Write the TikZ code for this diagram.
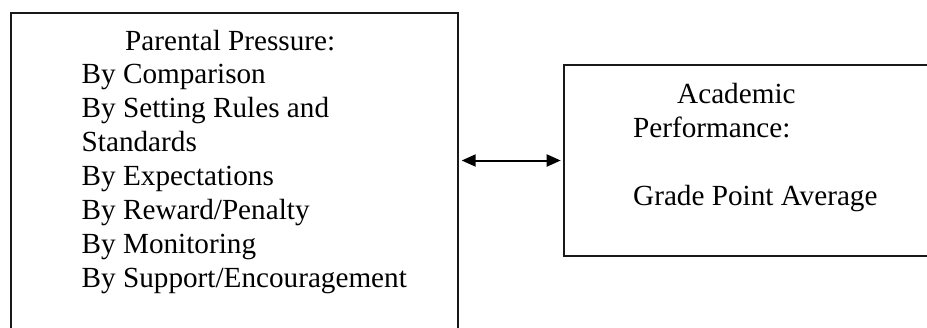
\documentclass[tikz,border=0pt]{standalone}
\usepackage{fontspec}
\setmainfont{Liberation Serif}
\usetikzlibrary{arrows.meta}
\begin{document}
\begin{tikzpicture}[x=1pt,y=-1pt,
  frame/.style={draw=black!90, line width=2pt, inner sep=0pt, anchor=north west},
  txt/.style={anchor=base west, inner sep=0pt, font=\fontsize{29.2}{33.9}\selectfont},
  link/.style={{Triangle[length=14pt,width=12pt]}-{Triangle[length=14pt,width=12pt]}, line width=2pt}]
  \useasboundingbox (0,0) rectangle (927,327);
  \clip (0,0) rectangle (927,327);
  % the two boxes (both run past the page edge)
  \node[frame, minimum width=446.7pt, minimum height=340pt] (lbox) at (10,11.7) {};
  \node[frame, minimum width=380pt, minimum height=191pt] (rbox) at (562.7,64) {};
  % left box text
  \node[txt] (t0) at (125,50) {Parental Pressure:};
  \node[txt] (t1) at (81.5,83.9) {By Comparison};
  \node[txt] (t2) at (81.5,117.7) {By Setting Rules and};
  \node[txt] (t3) at (81.5,151.6) {Standards};
  \node[txt] (t4) at (81.5,185.4) {By Expectations};
  \node[txt] (t5) at (81.5,219.3) {By Reward/Penalty};
  \node[txt] (t6) at (81.5,253.1) {By Monitoring};
  \node[txt] (t7) at (81.5,287) {By Support/Encouragement};
  % right box text
  \node[txt] (r0) at (677,103) {Academic};
  \node[txt] (r1) at (633,137) {Performance:};
  \node[txt] (r2) at (633,205) {Grade Point Average};
  % two-way link
  \draw[link, shorten <=3pt, shorten >=2pt] (lbox.east |- rbox.west) -- (rbox.west);
\end{tikzpicture}
\end{document}
